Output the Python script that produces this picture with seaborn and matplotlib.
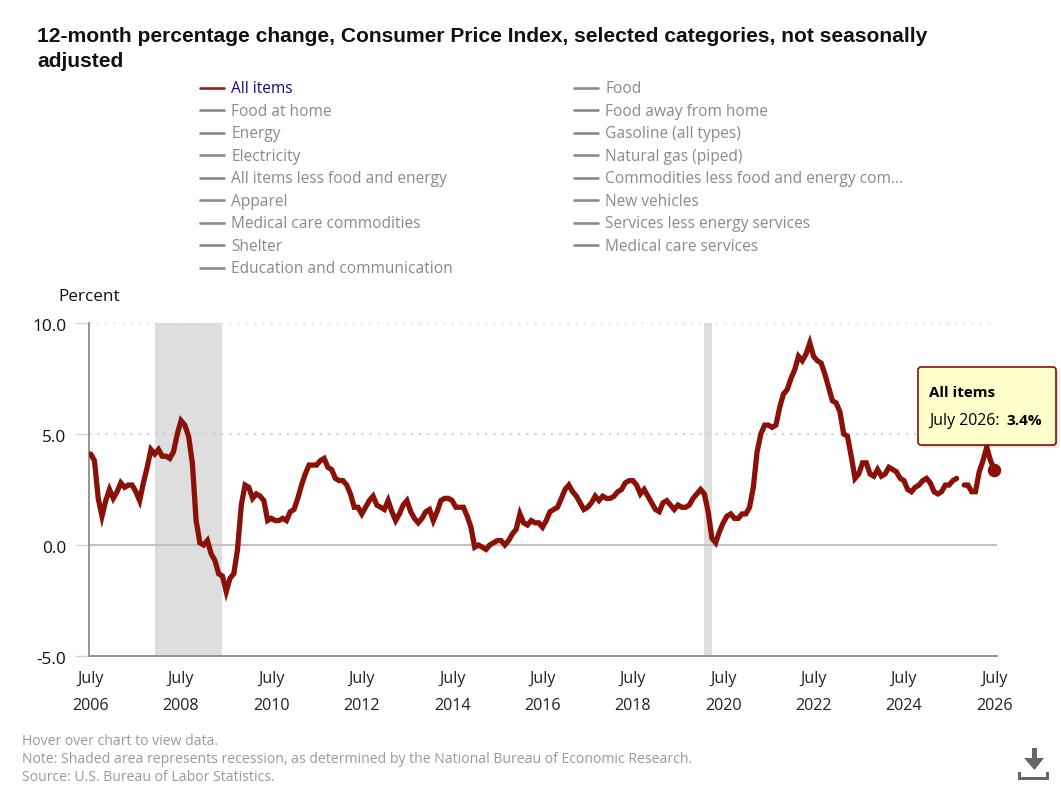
import matplotlib
matplotlib.use('Agg')
import matplotlib.pyplot as plt
import numpy as np
import pandas as pd
import seaborn as sns
from matplotlib.lines import Line2D
from matplotlib.patches import FancyBboxPatch, Polygon
from matplotlib.transforms import IdentityTransform, ScaledTranslation

# Values, July 2006 to July 2026
all_items = [
    4.1, 3.8, 2.1, 1.3, 2.0, 2.5,
    2.1, 2.4, 2.8, 2.6, 2.7, 2.7, 2.4, 2.0, 2.8, 3.5, 4.3, 4.1,
    4.3, 4.0, 4.0, 3.9, 4.2, 5.0, 5.6, 5.4, 4.9, 3.7, 1.1, 0.1,
    0.0, 0.2, -0.4, -0.7, -1.3, -1.4, -2.1, -1.5, -1.3, -0.2, 1.8, 2.7,
    2.6, 2.1, 2.3, 2.2, 2.0, 1.1, 1.2, 1.1, 1.1, 1.2, 1.1, 1.5,
    1.6, 2.1, 2.7, 3.2, 3.6, 3.6, 3.6, 3.8, 3.9, 3.5, 3.4, 3.0,
    2.9, 2.9, 2.7, 2.3, 1.7, 1.7, 1.4, 1.7, 2.0, 2.2, 1.8, 1.7,
    1.6, 2.0, 1.5, 1.1, 1.4, 1.8, 2.0, 1.5, 1.2, 1.0, 1.2, 1.5,
    1.6, 1.1, 1.5, 2.0, 2.1, 2.1, 2.0, 1.7, 1.7, 1.7, 1.3, 0.8,
    -0.1, 0.0, -0.1, -0.2, 0.0, 0.1, 0.2, 0.2, 0.0, 0.2, 0.5, 0.7,
    1.4, 1.0, 0.9, 1.1, 1.0, 1.0, 0.8, 1.1, 1.5, 1.6, 1.7, 2.1,
    2.5, 2.7, 2.4, 2.2, 1.9, 1.6, 1.7, 1.9, 2.2, 2.0, 2.2, 2.1,
    2.1, 2.2, 2.4, 2.5, 2.8, 2.9, 2.9, 2.7, 2.3, 2.5, 2.2, 1.9,
    1.6, 1.5, 1.9, 2.0, 1.8, 1.6, 1.8, 1.7, 1.7, 1.8, 2.1, 2.3,
    2.5, 2.3, 1.5, 0.3, 0.1, 0.6, 1.0, 1.3, 1.4, 1.2, 1.2, 1.4,
    1.4, 1.7, 2.6, 4.2, 5.0, 5.4, 5.4, 5.3, 5.4, 6.2, 6.8, 7.0,
    7.5, 7.9, 8.5, 8.3, 8.6, 9.1, 8.5, 8.3, 8.2, 7.7, 7.1, 6.5,
    6.4, 6.0, 5.0, 4.9, 4.0, 3.0, 3.2, 3.7, 3.7, 3.2, 3.1, 3.4,
    3.1, 3.2, 3.5, 3.4, 3.3, 3.0, 2.9, 2.5, 2.4, 2.6, 2.7, 2.9,
    3.0, 2.8, 2.4, 2.3, 2.4, 2.7, 2.7, 2.9, 3.0, np.nan, 2.7, 2.7,
    2.4, 2.4, 3.3, 3.8, 4.4, 3.8, 3.4,
]
recession_start = [17, 163]
recession_end = [35, 165]
year_labels = ['2006', '2008', '2010', '2012', '2014', '2016', '2018', '2020', '2022', '2024', '2026']
y_ticks = [-5.0, 0.0, 5.0, 10.0]
legend_names = [
    'All items', 'Food at home', 'Energy', 'Electricity', 'All items less food and energy',
    'Apparel', 'Medical care commodities', 'Shelter', 'Education and communication',
    'Food', 'Food away from home', 'Gasoline (all types)', 'Natural gas (piped)',
    'Commodities less food and energy com...', 'New vehicles',
    'Services less energy services', 'Medical care services',
]

W, H = 1061, 795
RED = '#8a1108'

sns.set_theme(style='white')
plt.rcParams['font.family'] = ['Open Sans', 'DejaVu Sans']

fig = plt.figure(figsize=(W / 100, H / 100), dpi=100)


def fx(x):
    return x / W


def fy(y):
    return 1 - y / H


# plot area is 89-997 across, 323-656 down
ax = fig.add_axes([fx(89), fy(656), (997 - 89) / W, (656 - 323) / H])

df = pd.DataFrame({'month': np.arange(len(all_items)), 'value': all_items})
df['segment'] = df['value'].isna().cumsum()

for start, end in zip(recession_start, recession_end):
    ax.axvspan(start, end, color='#dedede', lw=0, zorder=1)

for level in [5, 10]:
    ax.axhline(level, color='#c4c4c4', lw=1.1, ls=(0, (1.4, 4)), zorder=2)
ax.axhline(0, color='#c0c0c0', lw=1.4, zorder=2)

# the missing month splits the line in two
for _, part in df.dropna().groupby('segment'):
    sns.lineplot(data=part, x='month', y='value', ax=ax, color=RED, lw=3.8,
                 estimator=None, solid_joinstyle='miter', zorder=3, legend=False)

sns.scatterplot(data=df.tail(1), x='month', y='value', ax=ax, color=RED, s=95,
                linewidth=0, zorder=4, clip_on=False, legend=False)

ax.set_xlim(-0.45, 240.72)
ax.set_ylim(-5, 10)
ax.set_xlabel('')
ax.set_ylabel('')

ax.set_xticks(np.arange(len(year_labels)) * 24)
ax.set_xticklabels([f'July\n{y}' for y in year_labels], linespacing=1.9,
                   fontsize=11.6, color='#222222')
ax.set_yticks(y_ticks)
ax.set_yticklabels([f'{v:.1f}' for v in y_ticks], fontsize=12.4, color='#111111')
ax.tick_params(axis='x', length=0, pad=11)
ax.tick_params(axis='y', length=10, width=1, color='#ccd6eb', pad=6.5, left=True)
# y labels sit a touch below their ticks in the original
for label in ax.get_yticklabels():
    label.set_transform(label.get_transform() + ScaledTranslation(0, -2 / 100, fig.dpi_scale_trans))

for side in ['top', 'right']:
    ax.spines[side].set_visible(False)
for side in ['left', 'bottom']:
    ax.spines[side].set_color('#8c8c8c')
    ax.spines[side].set_linewidth(1.3)

# title, axis caption, footer
fig.text(fx(37), fy(42), '12-month percentage change, Consumer Price Index, selected categories, not seasonally',
         family='Liberation Sans', weight='bold', fontsize=15.14, color='#111111', va='baseline')
fig.text(fx(37), fy(67), 'adjusted', family='Liberation Sans', weight='bold', fontsize=15.14,
         color='#111111', va='baseline')
fig.text(fx(59) - 1 / W, fy(301), 'Percent', fontsize=12.3, color='#111111', va='baseline')

footer = ['Hover over chart to view data.',
          'Note: Shaded area represents recession, as determined by the National Bureau of Economic Research.',
          'Source: U.S. Bureau of Labor Statistics.']
for y, line in zip([745, 763, 781], footer):
    fig.text(fx(22), fy(y), line, fontsize=10.06, color='#999999', va='baseline')

# legend: only the first series is switched on
handles = [Line2D([], [], color='#9b1c1c' if i == 0 else '#8a8a8a', lw=1.9) for i in range(len(legend_names))]
leg = fig.legend(handles, legend_names, ncols=2, loc='upper left', bbox_to_anchor=(fx(200), fy(81)),
                 frameon=False, fontsize=11.2, borderpad=0, borderaxespad=0, labelspacing=0.42,
                 handlelength=1.55, handletextpad=0.46, columnspacing=7.77)
for i, label in enumerate(leg.get_texts()):
    label.set_color('#1a0a80' if i == 0 else '#8a8a8a')

# tooltip on top of the plot, in pixel coordinates
id_tr = IdentityTransform()
for off, alpha in [(3, 0.05), (2, 0.08), (1, 0.12)]:
    fig.add_artist(FancyBboxPatch((918 + off, H - 445 - off), 138, 78, transform=id_tr,
                                  boxstyle='round,pad=0,rounding_size=3', fc='black', ec='none',
                                  alpha=alpha, zorder=5))
fig.add_artist(FancyBboxPatch((918, H - 445), 138, 78, transform=id_tr,
                              boxstyle='round,pad=0,rounding_size=3', fc='#ffffcc', ec=RED, lw=1.2,
                              zorder=6))
fig.text(fx(929), fy(397), 'All items', weight='bold', fontsize=10.9, color='black', va='baseline', zorder=7)
fig.text(fx(929), fy(425), 'July 2026: ', fontsize=11.4, color='black', va='baseline', zorder=7)
fig.text(fx(1006), fy(425), '3.4%', weight='bold', fontsize=11, color='black', va='baseline', zorder=7)

# download icon
fig.add_artist(Polygon([(1032, H - 748), (1037, H - 748), (1037, H - 758), (1044, H - 758),
                        (1034.5, H - 770), (1024, H - 758), (1032, H - 758)],
                       transform=id_tr, fc='#666666', ec='none'))
fig.add_artist(Polygon([(1018, H - 772), (1021, H - 772), (1021, H - 777), (1046, H - 777), (1046, H - 772),
                        (1049, H - 772), (1049, H - 780), (1018, H - 780)],
                       transform=id_tr, fc='#666666', ec='none'))

fig.savefig('out.png', dpi=100, facecolor='white')
